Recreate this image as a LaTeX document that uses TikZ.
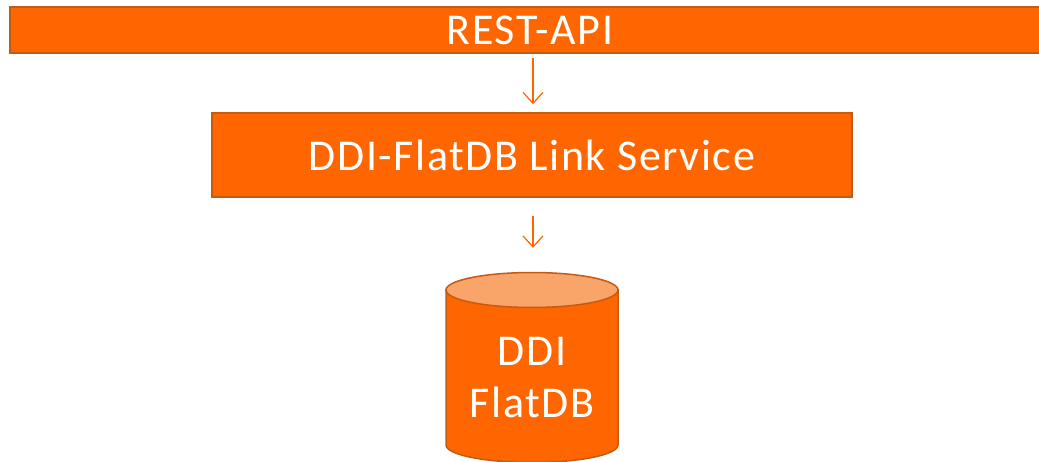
\documentclass[tikz,border=0pt]{standalone}
\usepackage{fontspec}
\setmainfont{Carlito}[LetterSpace=3.5]
\usetikzlibrary{arrows.meta}

\definecolor{boxfill}{HTML}{FF6600}
\definecolor{boxline}{HTML}{C55A11}
\definecolor{dbtop}{HTML}{F9A468}

\tikzset{
	layer/.style={rectangle, draw=boxline, fill=boxfill, line width=1.5pt,
		text=white, font=\fontsize{44}{52}\selectfont, inner sep=0pt},
	flow/.style={draw=boxfill, line width=1.2pt, -{Straight Barb[length=11pt,width=20pt,line width=1.2pt]}}
}

\begin{document}
\begin{tikzpicture}[x=1pt,y=-1pt]
			\useasboundingbox (0,0) rectangle (1039,462);
			\node[layer, minimum width=1040pt, minimum height=46pt] (rest) at (530,30) {REST-API};
			\node[layer, minimum width=640pt, minimum height=84pt] (link) at (532,155) {DDI-FlatDB Link Service};
			% database cylinder
			\path[fill=boxfill, draw=boxline, line width=1.5pt] (446,290) -- (446,445)
				arc[start angle=180, end angle=0, x radius=86, y radius=17.5] -- (618,290) -- cycle;
			\draw[fill=dbtop, draw=boxline, line width=1.5pt] (532,290) ellipse [x radius=86, y radius=17.5];
			\node[text=white, font=\fontsize{44}{52}\selectfont, align=center, inner sep=0pt,
				minimum width=172pt, minimum height=190pt] (db) at (532,378) {DDI\\FlatDB};
			\draw[flow, shorten <=4pt, shorten >=8pt] (rest.south -| 533,0) -- (link.north -| 533,0);
			\draw[flow, shorten <=18pt, shorten >=35pt] (link.south -| 533,0) -- (db.north -| 533,0);
		\end{tikzpicture}
\end{document}
